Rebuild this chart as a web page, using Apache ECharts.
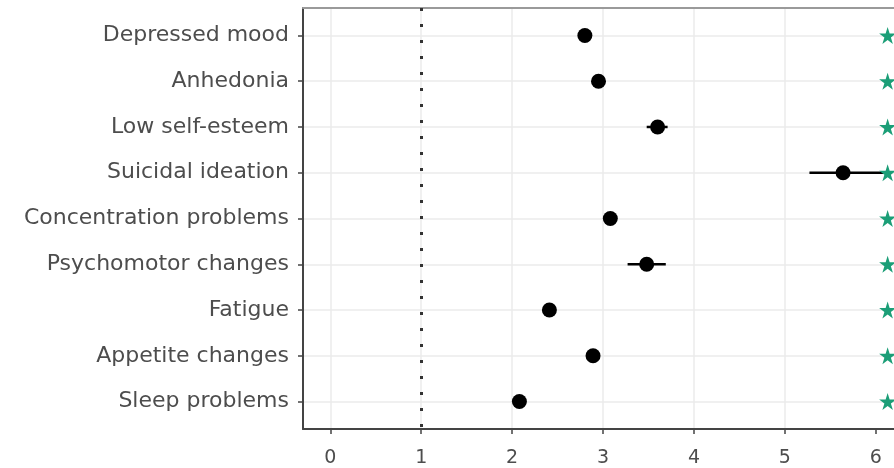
<!DOCTYPE html>
<html>
<head>
<meta charset="utf-8">
<title>Symptom forest plot</title>
<script src="https://cdn.jsdelivr.net/npm/echarts@6/dist/echarts.min.js"></script>
<style>
  html, body { margin: 0; padding: 0; background: #fff; }
  #chart { width: 894px; height: 468px; }
</style>
</head>
<body>
<div id="chart"></div>
<script>
// symptoms, top to bottom
const symptoms = ['Depressed mood', 'Anhedonia', 'Low self-esteem', 'Suicidal ideation',
  'Concentration problems', 'Psychomotor changes', 'Fatigue', 'Appetite changes', 'Sleep problems']

// point estimates and interval bounds
const estimate = [2.80, 2.95, 3.60, 5.64, 3.08, 3.48, 2.41, 2.89, 2.08]
const lower = [2.74, 2.89, 3.48, 5.27, 3.02, 3.27, 2.36, 2.83, 2.03]
const upper = [2.86, 3.01, 3.71, 6.10, 3.14, 3.69, 2.46, 2.95, 2.13]

// significance stars (x position of each star)
const starX = [6.13, 6.13, 6.13, 6.13, 6.13, 6.13, 6.13, 6.13, 6.13]

// tick labels
const xTicks = [0, 1, 2, 3, 4, 5, 6]
const yTicks = [0, 1, 2, 3, 4, 5, 6, 7, 8]

const refLine = 1

let myChart = echarts.init(document.getElementById('chart'))

const starPath = 'path://M50,0 L61.8,36.2 L100,36.2 L69.1,58.6 L80.9,95.1 L50,72.6 L19.1,95.1 L30.9,58.6 L0,36.2 L38.2,36.2 Z'

myChart.setOption({
  animation: false,
  grid: { left: 303, right: 0, top: 8, bottom: 38 },
  xAxis: [
    {
      type: 'value',
      min: -0.3,
      max: 6.2,
      minInterval: 1,
      maxInterval: 1,
      axisLine: { show: true, onZero: false, lineStyle: { color: '#444', width: 2 } },
      axisTick: { show: true, length: 5, customValues: xTicks, lineStyle: { color: '#444', width: 1.5 } },
      axisLabel: {
        customValues: xTicks,
        color: '#4d4d4d',
        fontFamily: 'DejaVu Sans',
        fontSize: 19,
        margin: 20
      },
      splitLine: { show: true, showMaxLine: false, lineStyle: { color: '#ebebeb', width: 1.5 } }
    },
    {
      // panel top border
      type: 'value',
      position: 'top',
      min: -0.3,
      max: 6.2,
      axisLine: { show: true, onZero: false, lineStyle: { color: '#9a9a9a', width: 2 } },
      axisTick: { show: false },
      axisLabel: { show: false },
      splitLine: { show: false }
    }
  ],
  yAxis: {
    type: 'value',
    inverse: true,
    min: -0.6,
    max: 8.6,
    minInterval: 1,
    maxInterval: 1,
    axisLine: { show: true, onZero: false, lineStyle: { color: '#444', width: 2 } },
    axisTick: { show: true, length: 5, customValues: yTicks, lineStyle: { color: '#444', width: 1.5 } },
    axisLabel: {
      customValues: yTicks,
      formatter: v => symptoms[Math.round(v)] || '',
      color: '#4d4d4d',
      fontFamily: 'DejaVu Sans',
      fontSize: 22,
      margin: 14,
      padding: [4, 0, 0, 0]
    },
    splitLine: { show: true, lineStyle: { color: '#ebebeb', width: 1.5 } }
  },
  series: [
    {
      // confidence intervals
      type: 'custom',
      data: symptoms.map((s, i) => [lower[i], upper[i], i]),
      renderItem: (params, api) => {
        const a = api.coord([api.value(0), api.value(2)])
        const b = api.coord([api.value(1), api.value(2)])
        return {
          type: 'line',
          shape: { x1: a[0], y1: a[1], x2: b[0], y2: b[1] },
          style: { stroke: '#000', lineWidth: 2.5 }
        }
      },
      markLine: {
        silent: true,
        symbol: 'none',
        label: { show: false },
        lineStyle: { color: '#333', width: 3, type: [3, 13], cap: 'butt', opacity: 1 },
        data: [{ xAxis: refLine }]
      },
      z: 3
    },
    {
      type: 'scatter',
      data: symptoms.map((s, i) => [estimate[i], i]),
      symbol: 'circle',
      symbolSize: 15,
      itemStyle: { color: '#000', opacity: 1 },
      z: 4
    },
    {
      type: 'scatter',
      data: symptoms.map((s, i) => [starX[i], i]),
      symbol: starPath,
      symbolSize: 17,
      itemStyle: { color: '#1b9e77', opacity: 1 },
      z: 5
    }
  ]
})
</script>
</body>
</html>
